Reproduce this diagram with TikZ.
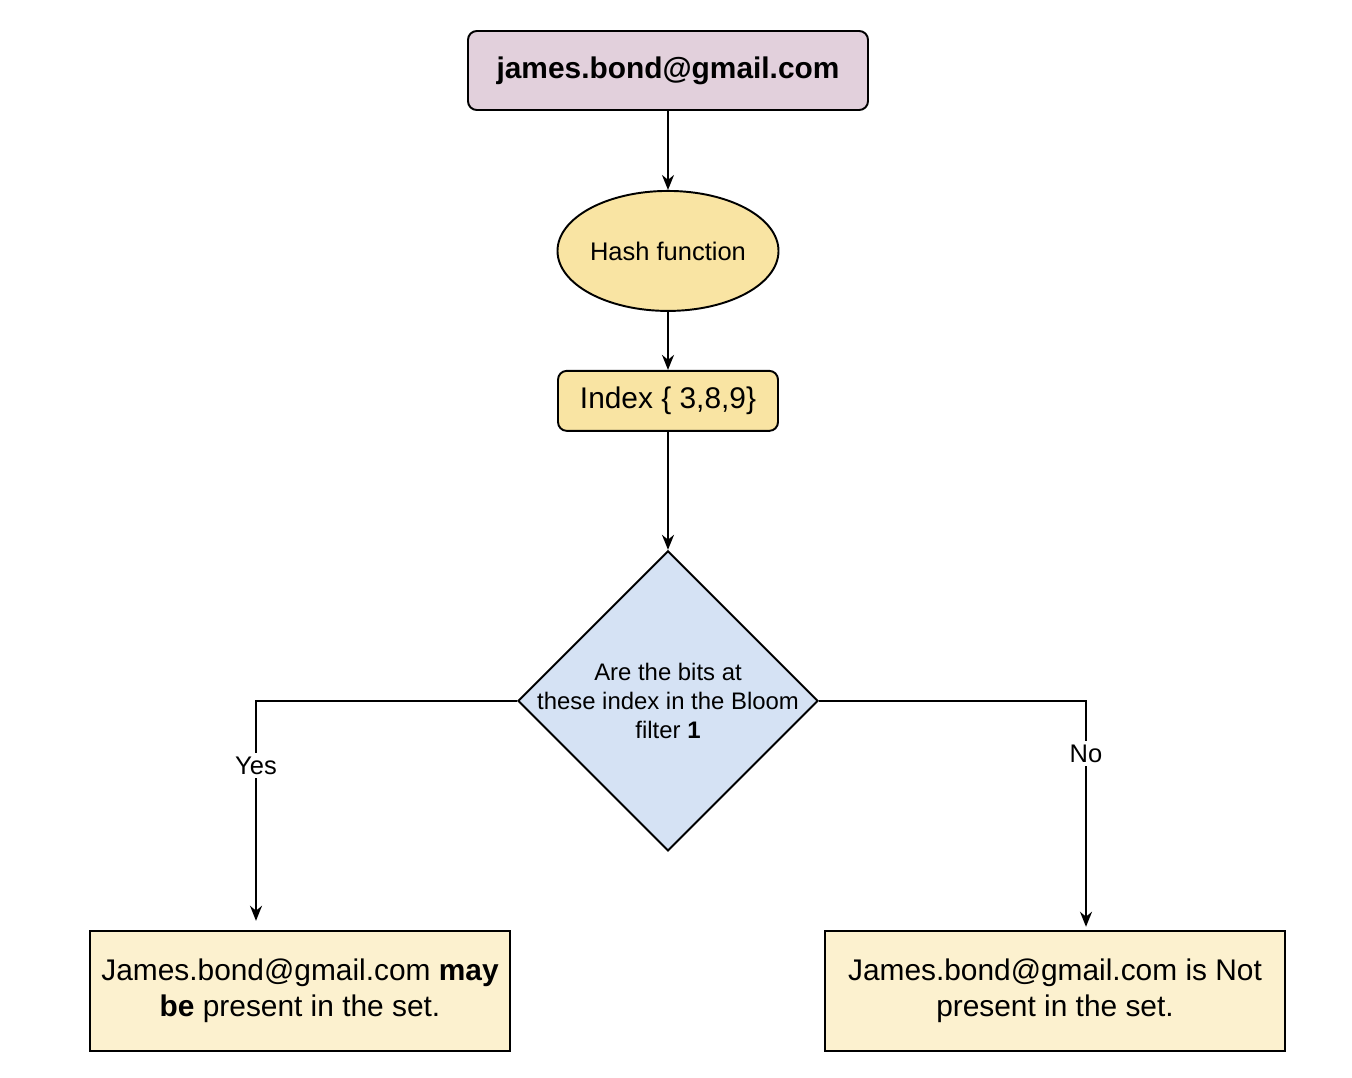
\documentclass[tikz,border=0pt]{standalone}
\usepackage{fontspec}
\setmainfont{Liberation Sans}
\usepackage{tikz}
\usetikzlibrary{shapes.geometric, arrows.meta, positioning}

\definecolor{mauvefill}{HTML}{E2D0DC}
\definecolor{goldfill}{HTML}{F9E4A3}
\definecolor{creamfill}{HTML}{FCF1CF}
\definecolor{bluefill}{HTML}{D5E2F4}

\begin{document}
\begin{tikzpicture}[
    line width=1.1pt,
    every node/.style={font=\fontsize{17}{20.4}\selectfont},
    box/.style={rectangle, draw, rounded corners=5pt, align=center},
    oval/.style={ellipse, draw, fill=goldfill, inner sep=0pt, minimum width=4.42cm, minimum height=2.4cm, font=\fontsize{14.5}{17}\selectfont},
    decision/.style={diamond, draw, fill=bluefill, aspect=1, inner sep=0pt, minimum width=6cm, minimum height=6cm},
    result/.style={rectangle, draw, fill=creamfill, align=center, minimum height=2.4cm},
    lbl/.style={fill=white, inner sep=2pt, font=\fontsize{14.5}{17}\selectfont},
    arrow/.style={-{Stealth[length=3mm, width=2.4mm]}}
  ]

  \useasboundingbox (0,0) rectangle (27.04,-21.56);

  \node[box, fill=mauvefill, minimum width=8cm, minimum height=1.58cm] (email) at (13.36,-1.41) {\textbf{james.bond@gmail.com}};

  \node[oval, below=1.58cm of email] (hash) {Hash function};

  \node[box, fill=goldfill, minimum width=4.4cm, minimum height=1.2cm, below=1.16cm of hash] (index) {Index \{ 3,8,9\}};

  \node[decision, below=2.36cm of index,
    label={[align=center, font=\fontsize{13.6}{16.4}\selectfont]center:Are the bits at\\these index in the Bloom\\filter \textbf{1}}] (check) {};

  \node[result, minimum width=8.4cm, below=1.56cm of check, xshift=-7.36cm] (maybe) {James.bond@gmail.com \textbf{may}\\\textbf{be} present in the set.};

  \node[result, minimum width=9.2cm, below=1.56cm of check, xshift=7.74cm] (absent) {James.bond@gmail.com is Not\\present in the set.};

  \draw[arrow] (email) -- (hash);
  \draw[arrow] (hash) -- (index);
  \draw[arrow] (index) -- (check);
  \draw[arrow] (check.west) -| node[lbl, pos=0.647] {Yes} ([xshift=-0.88cm, yshift=0.18cm]maybe.north);
  \draw[arrow] (check.east) -| node[lbl, pos=0.617] {No} ([xshift=0.62cm, yshift=0.06cm]absent.north);

\end{tikzpicture}
\end{document}
